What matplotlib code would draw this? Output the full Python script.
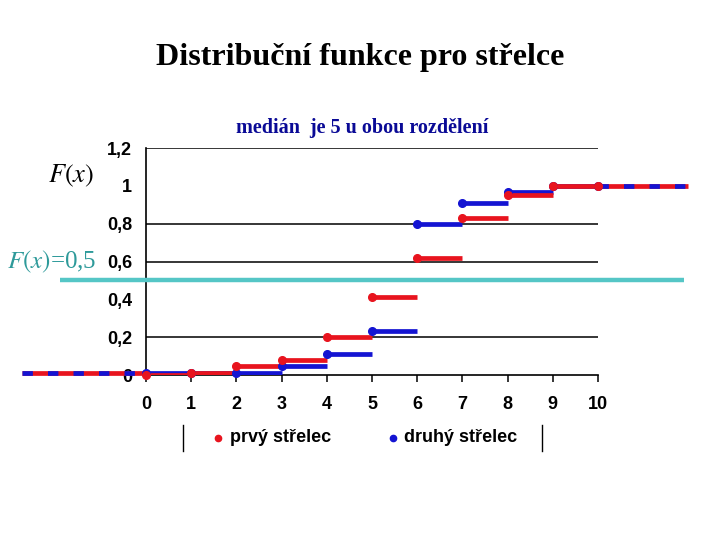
import matplotlib
matplotlib.use('Agg')
import matplotlib.pyplot as plt
from matplotlib.lines import Line2D
import numpy as np

# hodnoty distribucni funkce F(x) pro x = 0..9
x_vals = [0, 1, 2, 3, 4, 5, 6, 7, 8, 9]
prvy = [0.00, 0.01, 0.05, 0.08, 0.20, 0.41, 0.62, 0.83, 0.95, 1.00]
druhy = [0.01, 0.01, 0.01, 0.05, 0.11, 0.23, 0.80, 0.91, 0.97, 1.00]
x_ticks = [0, 1, 2, 3, 4, 5, 6, 7, 8, 9, 10]
y_ticks = [0, 0.2, 0.4, 0.6, 0.8, 1.0, 1.2]
y_labels = ['0', '0,2', '0,4', '0,6', '0,8', '1', '1,2']
grid_y = [0.2, 0.6, 0.8, 1.2]
median_level = 0.5

RED = '#e8141e'
BLUE = '#1414d2'
TEAL_LINE = '#55c6c6'
TEAL_TEXT = '#2e9a9a'
NAVY = '#0a0a96'

plt.rcParams['mathtext.fontset'] = 'stix'

fig = plt.figure(figsize=(7.2, 5.4), dpi=100)
ax = fig.add_axes([146 / 720, 1 - 375 / 540, 452 / 720, 227 / 540])
ax.set_xlim(0, 10)
ax.set_ylim(0, 1.2)

for sp in ('top', 'right'):
    ax.spines[sp].set_visible(False)
ax.spines['left'].set_linewidth(1.2)
ax.spines['bottom'].set_linewidth(1.2)

for gy in grid_y:
    ax.axhline(gy, color='black', lw=1.1, zorder=1)

ax.set_xticks(x_ticks)
ax.set_xticklabels([str(t) for t in x_ticks])
ax.tick_params(axis='x', direction='out', length=5, width=1.1, pad=10)
ax.set_yticks(y_ticks)
ax.set_yticklabels(y_labels)
ax.set_yticks(grid_y, minor=True)
ax.tick_params(axis='y', which='major', length=0, pad=10)
ax.tick_params(axis='y', which='minor', direction='out', length=5, width=1.1)
for lab in ax.get_xticklabels() + ax.get_yticklabels():
    lab.set_fontfamily('Liberation Sans')
    lab.set_fontweight('bold')
    lab.set_fontsize(13)

lw = 3.4
# schody: kazdy skok od x do x+1
for vals, col, z in ((druhy, BLUE, 3), (prvy, RED, 4)):
    for xi, fi in zip(x_vals, vals):
        ax.plot([xi, xi + 1], [fi, fi], color=col, lw=lw, solid_capstyle='butt', zorder=z)
    ax.plot(x_vals + [10], vals + [1.0], 'o', color=col, ms=5.5, zorder=z + 2, clip_on=False)

# prodlouzeni vlevo (F=0) a vpravo (F=1), strida cervena/modra
for xs, yv in (([-2.75, 0], 0.012), ([10, 12], 1.0)):
    ax.plot(xs, [yv, yv], color=RED, lw=lw, clip_on=False, zorder=3, solid_capstyle='butt')
    ax.plot(xs, [yv, yv], color=BLUE, lw=lw, clip_on=False, zorder=3,
            dashes=(2.2, 3.2), dash_capstyle='butt')

# median F(x)=0,5
ax.plot([-1.9, 11.9], [median_level, median_level], color=TEAL_LINE, lw=3.2,
        clip_on=False, zorder=6, solid_capstyle='butt')

fig.text(0.5, 1 - 58 / 540, 'Distribuční funkce pro střelce', ha='center', va='center',
         fontfamily='Liberation Serif', fontweight='bold', fontsize=23)
fig.text(362 / 720, 1 - 128 / 540, 'medián  je 5 u obou rozdělení', ha='center', va='center',
         fontfamily='Liberation Serif', fontweight='bold', fontsize=14.5, color=NAVY)
fig.text(71 / 720, 1 - 176 / 540, r'$F(x)$', ha='center', va='center',
         fontfamily='Liberation Serif', fontsize=19)
fig.text(52 / 720, 1 - 262 / 540, r'$F(x)$=0,5', ha='center', va='center',
         fontfamily='Liberation Serif', fontsize=18, color=TEAL_TEXT)

# legenda
ly = 1 - 438 / 540
for xpos in (183, 542):
    fig.add_artist(Line2D([xpos / 720, xpos / 720], [1 - 425 / 540, 1 - 451 / 540],
                          color='black', lw=1))
for mx, tx, col, txt in ((218, 230, RED, 'prvý střelec'), (393, 404, BLUE, 'druhý střelec')):
    fig.add_artist(Line2D([mx / 720], [ly], marker='o', color=col, ms=4.5, lw=0))
    fig.text(tx / 720, ly, txt, ha='left', va='center', fontfamily='Liberation Sans',
             fontweight='bold', fontsize=13)

fig.savefig('out.png', dpi=100)
